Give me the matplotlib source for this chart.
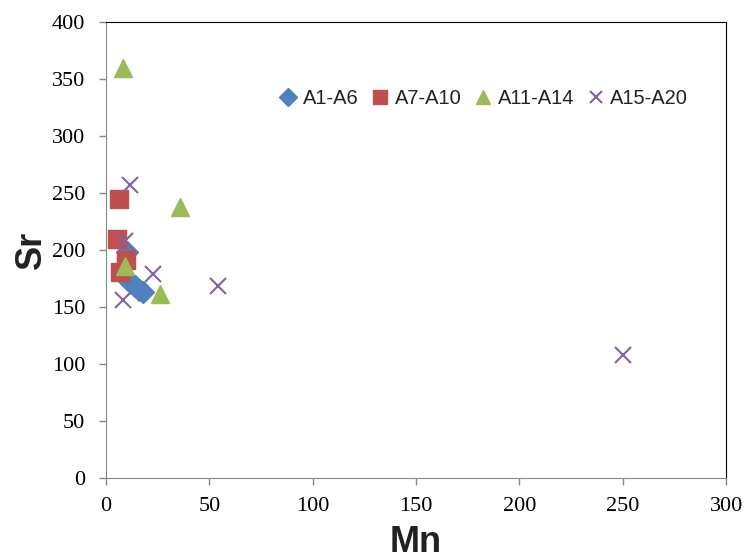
import matplotlib
matplotlib.use("Agg")
import matplotlib.pyplot as plt

a1_x = [10, 10, 12, 14, 16, 18]
a1_y = [198, 175, 171, 168, 165, 163]
a7_x = [6.3, 5.3, 9.7, 6.8]
a7_y = [245, 210, 191, 181]
a11_x = [8.2, 35.8, 9.2, 26]
a11_y = [360, 238, 186, 161]
a15_x = [11.6, 9.2, 22.7, 8.2, 54, 250]
a15_y = [257, 208, 179, 156, 168, 108]

fig = plt.figure(figsize=(7.47, 5.55), dpi=100)
ax = fig.add_axes([0.142, 0.139, 0.830, 0.821])

ax.plot(a1_x, a1_y, ls='none', marker='D', ms=11, color='#4F81BD', label='A1-A6')
ax.plot(a7_x, a7_y, ls='none', marker='s', ms=12.5, color='#C0504D', label='A7-A10')
ax.plot(a11_x, a11_y, ls='none', marker='^', ms=13, color='#9BBB59', label='A11-A14')
ax.plot(a15_x, a15_y, ls='none', marker='x', ms=11, mew=1.5, color='#8064A2', label='A15-A20')

ax.set_xlim(0, 300)
ax.set_ylim(0, 400)
ax.set_xticks(range(0, 301, 50))
ax.set_yticks(range(0, 401, 50))
for lab in ax.get_xticklabels() + ax.get_yticklabels():
    lab.set_family('Liberation Serif')
    lab.set_fontsize(16)
ax.tick_params(direction='out', length=5, color='#888888', width=1)
ax.tick_params(axis='y', pad=10)
ax.tick_params(axis='x', pad=9)
ax.spines['left'].set_color('#888888')
ax.spines['bottom'].set_color('#888888')
ax.spines['top'].set_color('black')
ax.spines['right'].set_color('black')

ax.set_xlabel('Mn', family='Liberation Sans', fontweight='bold', fontsize=26,
              labelpad=6, color='#222222')
ax.set_ylabel('Sr', family='Liberation Sans', fontweight='bold', fontsize=26,
              labelpad=2, color='#222222')

leg = ax.legend(loc='center', bbox_to_anchor=(0.61, 0.833), ncol=4, frameon=False,
                prop={'family': 'Liberation Sans', 'size': 14.5}, handletextpad=0.3,
                handlelength=0.8, columnspacing=0.7, markerscale=0.8)
for t in leg.get_texts():
    t.set_color('#222222')
fig.savefig('out.png', dpi=100)
